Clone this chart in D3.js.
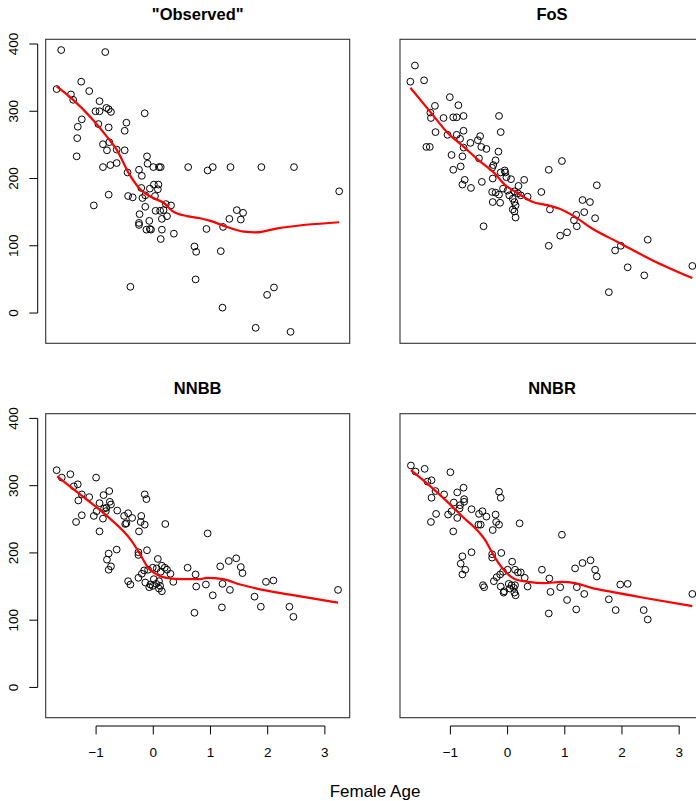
<!DOCTYPE html>
<html>
<head>
<meta charset="utf-8">
<script src="https://cdn.jsdelivr.net/npm/d3@7"></script>
<style>
  html, body { margin: 0; padding: 0; background: #fff; }
  svg { display: block; font-family: "Liberation Sans", Arial, Helvetica, sans-serif; }
</style>
</head>
<body>
<svg id="chart" width="696" height="801"></svg>
<script>
// ---------- data (x = standardized female age, y = value) ----------
const panelTitles = ['"Observed"', "FoS", "NNBB", "NNBR"];
const xTicks = [-1, 0, 1, 2, 3];
const yTicks = [0, 100, 200, 300, 400];
const xLabel = "Female Age";

const observedPts = [[-1.61,391],[-0.84,388],[-1.69,333],[-1.26,344],[-1.12,330],[-1.44,325],[-1.40,317],[-0.94,315],[-1.01,300],[-0.94,300],[-0.82,305],[-0.78,303],[-0.74,299],[-0.15,297],[-1.25,288],[-1.32,277],[-0.96,281],[-0.78,276],[-0.47,283],[-0.50,271],[-1.33,260],[-0.88,251],[-0.77,254],[-0.81,242],[-0.64,243],[-0.50,242],[-1.34,233],[-0.88,217],[-0.75,220],[-0.64,223],[-0.11,233],[-0.10,222],[0.00,217],[0.10,217],[0.13,217],[0.61,217],[-0.25,213],[-0.20,204],[-0.45,209],[0.01,191],[0.09,191],[-0.06,185],[0.08,184],[-0.21,186],[-0.19,171],[-0.14,175],[0.03,174],[-0.78,176],[-0.44,174],[-0.36,172],[-1.04,160],[-0.14,158],[0.04,152],[0.12,152],[0.18,153],[0.22,162],[0.31,160],[0.24,144],[0.15,140],[-0.24,147],[-0.25,134],[-0.25,131],[-0.07,137],[-0.06,125],[-0.12,124],[-0.04,124],[0.15,124],[0.13,110],[0.36,118],[0.72,99],[0.75,91],[0.74,50],[-0.40,39],[0.95,212],[1.04,217],[1.35,217],[1.89,217],[2.46,217],[3.25,181],[1.46,153],[1.57,149],[1.53,139],[1.33,140],[0.93,125],[1.22,128],[1.18,92],[2.11,38],[1.99,27],[1.21,8],[1.79,-22],[2.40,-28]];
const observedFit = [[-1.69,337],[-1.40,317],[-0.78,259],[-0.64,243],[-0.43,208],[-0.23,184],[0,171],[0.18,164],[0.33,152],[0.59,144],[0.82,141],[1.0,137],[1.29,128],[1.58,121],[1.79,120],[2.17,126],[3.25,135]];

const fosPts = [[-1.62,368],[-1.70,344],[-1.46,346],[-1.01,321],[-0.86,309],[-1.27,308],[-1.35,298],[-1.34,290],[-1.12,290],[-0.95,291],[-0.89,291],[-0.77,293],[-0.15,293],[-0.12,269],[-1.26,269],[-0.77,271],[-1.05,265],[-0.89,265],[-0.83,259],[-1.42,247],[-1.36,247],[-0.65,253],[-0.52,257],[-0.48,263],[-0.77,246],[-0.46,247],[-0.37,244],[-0.98,235],[-0.79,233],[-0.50,230],[-0.16,240],[-0.21,227],[-0.25,220],[-0.27,216],[-0.82,218],[-0.95,213],[-0.05,212],[-0.04,209],[-0.12,209],[-0.26,200],[-0.75,198],[-0.79,191],[-0.64,186],[-0.45,195],[-0.02,202],[0.06,199],[0.29,198],[0.19,189],[-0.08,185],[0.00,182],[0.03,175],[-0.27,180],[-0.21,179],[-0.15,176],[0.12,181],[0.18,178],[0.23,175],[0.35,173],[0.59,180],[0.09,170],[0.12,165],[0.14,160],[0.09,154],[0.12,151],[0.14,142],[-0.26,165],[-0.13,164],[-0.42,129],[0.95,226],[0.72,213],[1.56,190],[1.31,168],[1.44,165],[1.34,150],[0.74,154],[1.20,146],[1.16,138],[1.21,129],[1.53,141],[0.92,115],[1.04,120],[0.72,100],[2.45,109],[1.98,100],[1.88,93],[2.10,68],[2.39,56],[3.23,70],[1.77,31]];
const fosFit = [[-1.70,335],[-1.34,298],[-1.05,268],[-0.75,246],[-0.52,228],[-0.23,208],[-0.05,191],[0.18,178],[0.42,166],[0.71,160],[0.91,155],[1.18,143],[1.47,126],[1.94,105],[2.52,79],[3.23,52]];

const nnbbPts = [[-1.69,323],[-1.60,312],[-1.45,317],[-1.00,312],[-1.39,299],[-1.32,302],[-1.25,287],[-1.12,283],[-1.31,278],[-0.87,286],[-0.77,292],[-0.94,274],[-0.76,276],[-0.74,272],[-0.82,267],[-0.83,262],[-0.86,266],[-0.99,262],[-1.04,255],[-0.88,251],[-1.25,256],[-1.35,246],[-0.63,263],[-0.44,259],[-0.51,255],[-0.37,252],[-0.49,243],[-0.47,244],[-0.15,287],[-0.12,280],[-0.21,255],[-0.22,246],[-0.15,242],[-0.25,232],[0.21,243],[-0.94,232],[-0.78,199],[-0.64,205],[-0.81,190],[-0.74,180],[-0.78,175],[-0.26,201],[-0.26,197],[-0.11,204],[0.08,191],[0.15,181],[0.20,178],[0.24,175],[0.30,169],[0.35,157],[-0.16,174],[-0.09,175],[-0.01,178],[0.06,177],[0.13,172],[-0.20,169],[-0.26,163],[0.01,161],[0.10,158],[0.05,154],[-0.05,153],[-0.07,149],[-0.01,151],[0.10,147],[0.15,143],[0.12,151],[-0.14,156],[-0.44,158],[-0.40,153],[0.60,178],[0.74,168],[0.75,150],[0.72,111],[0.95,229],[1.17,180],[1.32,188],[1.45,192],[1.53,179],[1.56,170],[0.92,153],[1.21,154],[1.34,145],[1.04,137],[1.20,119],[1.97,157],[2.10,159],[1.77,135],[1.88,120],[2.38,120],[2.45,105],[3.23,145]];
const nnbbFit = [[-1.68,314],[-1.28,287],[-0.81,255],[-0.38,218],[-0.23,198],[-0.09,178],[0.06,168],[0.23,163],[0.52,161],[0.82,161],[0.93,163],[1.22,161],[1.52,153],[1.81,147],[2.39,138],[3.23,126]];

const nnbrPts = [[-1.69,330],[-1.61,321],[-1.45,325],[-1.00,320],[-1.40,306],[-1.33,308],[-1.26,292],[-1.33,282],[-1.11,287],[-0.88,290],[-0.77,297],[-0.94,275],[-0.76,280],[-0.76,276],[-0.83,271],[-0.84,266],[-1.04,257],[-0.98,262],[-0.88,252],[-1.25,258],[-1.34,246],[-0.63,265],[-0.50,258],[-0.44,262],[-0.37,254],[-0.51,242],[-0.47,242],[-0.21,257],[-0.20,246],[-0.15,242],[-0.26,234],[-0.15,291],[-0.12,282],[0.21,244],[-0.95,232],[-0.63,201],[-0.79,195],[-0.82,184],[-0.74,175],[-0.79,168],[-0.27,198],[-0.27,193],[-0.11,200],[0.08,187],[-0.43,152],[-0.41,149],[-0.24,158],[-0.19,164],[-0.13,168],[-0.08,172],[0.00,175],[0.13,175],[0.18,171],[0.23,171],[0.30,163],[0.35,150],[-0.12,150],[-0.06,143],[-0.07,141],[0.02,154],[0.07,152],[0.11,148],[0.12,141],[0.14,137],[0.04,147],[0.13,152],[0.60,175],[0.95,227],[0.73,162],[0.75,142],[0.72,110],[0.92,149],[1.04,130],[1.18,177],[1.31,185],[1.45,189],[1.53,175],[1.56,165],[1.21,149],[1.34,139],[1.20,116],[1.77,131],[1.97,153],[2.10,154],[1.89,115],[2.38,115],[2.45,101],[3.23,139]];
const nnbrFit = [[-1.69,323],[-1.27,293],[-0.80,255],[-0.40,220],[-0.22,193],[-0.05,173],[0.13,161],[0.36,157],[0.65,155],[0.95,157],[1.18,155],[1.47,148],[1.82,142],[2.40,133],[3.23,121]];

// ---------- layout ----------
const panels = [
  { title: panelTitles[0], pts: observedPts, fit: observedFit, col: 0, row: 0 },
  { title: panelTitles[1], pts: fosPts,      fit: fosFit,      col: 1, row: 0 },
  { title: panelTitles[2], pts: nnbbPts,     fit: nnbbFit,     col: 0, row: 1 },
  { title: panelTitles[3], pts: nnbrPts,     fit: nnbrFit,     col: 1, row: 1 }
];

const boxW = 304, boxH = 304;
const left0 = 45.7, top0 = 39.3;
const colStep = 354.3, rowStep = 374.4;
const xDomain = [-1.881, 3.434];
const yDomain = [-45, 407];

const svg = d3.select("#chart");

panels.forEach(p => {
  const L = left0 + p.col * colStep;
  const T = top0 + p.row * rowStep;
  const x = d3.scaleLinear().domain(xDomain).range([L, L + boxW]);
  const y = d3.scaleLinear().domain(yDomain).range([T + boxH, T]);
  const g = svg.append("g");

  // points
  g.append("g").selectAll("circle").data(p.pts).enter().append("circle")
    .attr("cx", d => x(d[0])).attr("cy", d => y(d[1])).attr("r", 3.4)
    .attr("fill", "none").attr("stroke", "#000").attr("stroke-width", 1);

  // smooth fit
  const line = d3.line().x(d => x(d[0])).y(d => y(d[1])).curve(d3.curveMonotoneX);
  g.append("path").datum(p.fit).attr("d", line)
    .attr("fill", "none").attr("stroke", "#ff0000").attr("stroke-width", 2.2)
    .attr("stroke-linejoin", "round");

  // box
  g.append("rect").attr("x", L).attr("y", T).attr("width", boxW).attr("height", boxH)
    .attr("fill", "none").attr("stroke", "#333").attr("stroke-width", 1.1);

  // title
  g.append("text").attr("x", L + boxW / 2).attr("y", T - 19.5)
    .attr("text-anchor", "middle").attr("font-weight", "bold").attr("font-size", 16.5)
    .text(p.title);

  // y axis (left column only)
  if (p.col === 0) {
    const axX = L - 8;
    const ya = g.append("g");
    ya.append("line").attr("x1", axX).attr("x2", axX)
      .attr("y1", y(yTicks[0])).attr("y2", y(yTicks[yTicks.length - 1]))
      .attr("stroke", "#000").attr("stroke-width", 1);
    yTicks.forEach(t => {
      ya.append("line").attr("x1", axX - 8.4).attr("x2", axX)
        .attr("y1", y(t)).attr("y2", y(t)).attr("stroke", "#000").attr("stroke-width", 1);
      ya.append("text").attr("transform", `translate(18.3,${y(t)}) rotate(-90)`)
        .attr("text-anchor", "middle").attr("font-size", 13.5).text(String(t));
    });
  }

  // x axis (bottom row only)
  if (p.row === 1) {
    const axY = T + boxH + 8.3;
    const xa = g.append("g");
    xa.append("line").attr("x1", x(xTicks[0])).attr("x2", x(xTicks[xTicks.length - 1]))
      .attr("y1", axY).attr("y2", axY).attr("stroke", "#000").attr("stroke-width", 1);
    xTicks.forEach(t => {
      xa.append("line").attr("x1", x(t)).attr("x2", x(t))
        .attr("y1", axY).attr("y2", axY + 8.4).attr("stroke", "#000").attr("stroke-width", 1);
      xa.append("text").attr("x", x(t)).attr("y", axY + 31)
        .attr("text-anchor", "middle").attr("font-size", 13.5)
        .text(t < 0 ? "\u2212" + Math.abs(t) : String(t));
    });
  }
});

svg.append("text").attr("x", 375).attr("y", 796.5).attr("text-anchor", "middle")
  .attr("font-size", 17).text(xLabel);
</script>
</body>
</html>
